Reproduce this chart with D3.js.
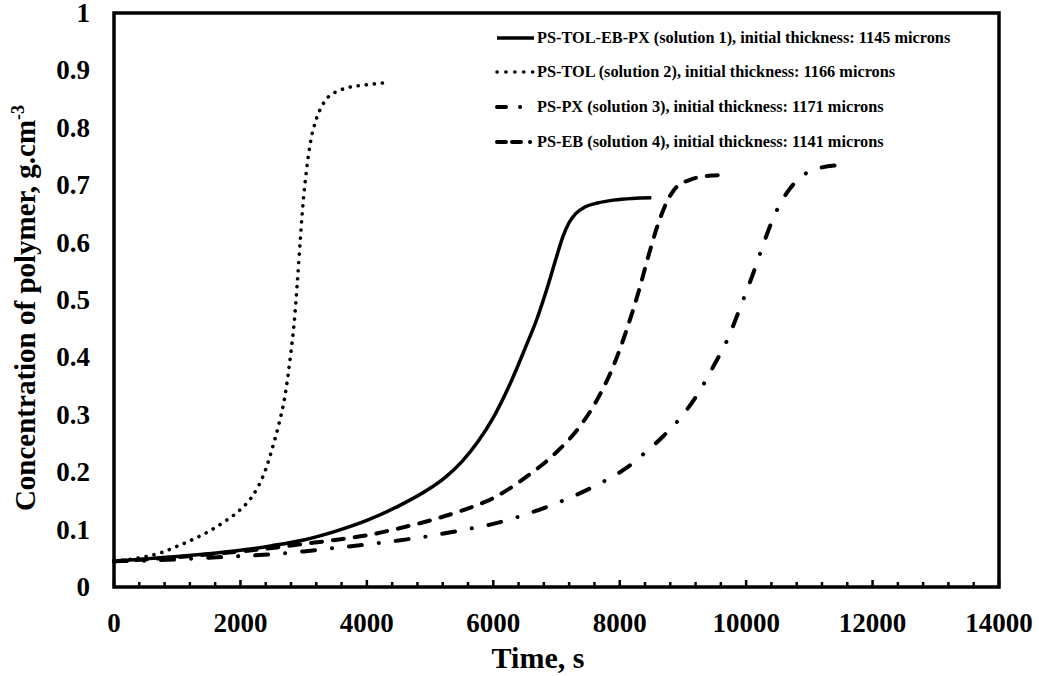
<!DOCTYPE html>
<html>
<head>
<meta charset="utf-8">
<script src="https://cdn.jsdelivr.net/npm/d3@7"></script>
<style>
  html, body { margin: 0; padding: 0; background: #fff; }
  svg { display: block; }
  text { font-family: "Liberation Serif", "Times New Roman", serif; font-weight: bold; fill: #000; }
</style>
</head>
<body>
<svg id="chart" width="1039" height="676"></svg>
<script>
// ---- data ----
const xTicks = [0, 2000, 4000, 6000, 8000, 10000, 12000, 14000];
const yTicks = [0, 0.1, 0.2, 0.3, 0.4, 0.5, 0.6, 0.7, 0.8, 0.9, 1];

const legendLabels = [
  "PS-TOL-EB-PX (solution 1), initial thickness: 1145 microns",
  "PS-TOL (solution 2), initial thickness: 1166 microns",
  "PS-PX (solution 3), initial thickness: 1171 microns",
  "PS-EB (solution 4), initial thickness: 1141 microns"
];

const s1Time = [0, 500, 1000, 1500, 2000, 2500, 3000, 3500, 4000, 4500, 5000, 5250, 5500, 5750, 6000, 6250, 6500, 6700, 6850, 7000, 7100, 7200, 7300, 7450, 7650, 7900, 8200, 8500];
const s1Conc = [0.045, 0.049, 0.053, 0.058, 0.064, 0.072, 0.082, 0.097, 0.116, 0.141, 0.172, 0.192, 0.218, 0.252, 0.295, 0.35, 0.415, 0.47, 0.52, 0.575, 0.61, 0.635, 0.65, 0.662, 0.669, 0.674, 0.677, 0.678];

const s2Time = [0, 250, 500, 750, 1000, 1250, 1500, 1750, 2000, 2200, 2400, 2500, 2600, 2700, 2800, 2850, 2900, 2950, 3000, 3050, 3100, 3200, 3300, 3400, 3500, 3700, 4000, 4250];
const s2Conc = [0.045, 0.048, 0.053, 0.060, 0.071, 0.083, 0.097, 0.114, 0.135, 0.160, 0.205, 0.24, 0.28, 0.33, 0.41, 0.46, 0.53, 0.61, 0.68, 0.73, 0.77, 0.815, 0.84, 0.855, 0.862, 0.870, 0.875, 0.878];

const s3Time = [0, 500, 1000, 1500, 2000, 2500, 3000, 3500, 4000, 4500, 5000, 5500, 6000, 6500, 7000, 7500, 7800, 8100, 8400, 8700, 9000, 9300, 9500, 9700, 9900, 10100, 10250, 10400, 10550, 10700, 10850, 11000, 11200, 11500];
const s3Conc = [0.045, 0.046, 0.048, 0.051, 0.054, 0.057, 0.062, 0.068, 0.074, 0.081, 0.089, 0.099, 0.11, 0.126, 0.146, 0.170, 0.187, 0.207, 0.234, 0.264, 0.30, 0.348, 0.388, 0.43, 0.485, 0.543, 0.59, 0.635, 0.67, 0.695, 0.713, 0.724, 0.731, 0.735];

const s4Time = [0, 500, 1000, 1500, 2000, 2500, 3000, 3500, 4000, 4500, 5000, 5500, 6000, 6500, 7000, 7300, 7600, 7900, 8100, 8300, 8450, 8600, 8750, 8900, 9100, 9300, 9500, 9700];
const s4Conc = [0.045, 0.048, 0.052, 0.057, 0.062, 0.068, 0.075, 0.082, 0.090, 0.102, 0.116, 0.133, 0.155, 0.19, 0.235, 0.27, 0.318, 0.385, 0.445, 0.515, 0.575, 0.63, 0.672, 0.697, 0.709, 0.715, 0.717, 0.718];

// ---- layout ----
const L = 114, R = 999, T = 13, B = 587;

const svg = d3.select("#chart");
const x = d3.scaleLinear().domain([0, 14000]).range([L, R]);
const y = d3.scaleLinear().domain([0, 1]).range([B, T]);

const series = [
  { t: s1Time, c: s1Conc, dash: null, legDash: null, width: 3.5 },
  { t: s2Time, c: s2Conc, dash: "0.1,8", legDash: "0.1,8.8", width: 3.6 },
  { t: s3Time, c: s3Conc, dash: "13,17,0.1,17", legDash: "9,14,0.1,30", width: 4 },
  { t: s4Time, c: s4Conc, dash: "11,11", legDash: "9,6,9,9,0.1,30", width: 4 }
];

const line = d3.line().x(d => x(d[0])).y(d => y(d[1])).curve(d3.curveMonotoneX);

series.forEach(s => {
  const pts = s.t.map((t, i) => [t, s.c[i]]);
  svg.append("path")
    .attr("d", line(pts))
    .attr("fill", "none")
    .attr("stroke", "#000")
    .attr("stroke-width", s.width)
    .attr("stroke-linecap", s.dash ? "round" : "butt")
    .attr("stroke-linejoin", "round")
    .attr("stroke-dasharray", s.dash);
});

// x axis ticks (inside, minor every 400, major every 2000)
const minor = d3.range(0, 14001, 400).filter(v => v % 2000 !== 0);
svg.append("g").selectAll("line").data(minor).join("line")
  .attr("x1", d => x(d)).attr("x2", d => x(d))
  .attr("y1", B).attr("y2", B - 5)
  .attr("stroke", "#000").attr("stroke-width", 2.5);
svg.append("g").selectAll("line").data(xTicks).join("line")
  .attr("x1", d => x(d)).attr("x2", d => x(d))
  .attr("y1", B).attr("y2", B - 7)
  .attr("stroke", "#000").attr("stroke-width", 2.5);

// frame
svg.append("rect")
  .attr("x", L).attr("y", T).attr("width", R - L).attr("height", B - T)
  .attr("fill", "none").attr("stroke", "#000").attr("stroke-width", 3.5);

// tick labels
svg.append("g").selectAll("text").data(xTicks).join("text")
  .attr("x", d => x(d)).attr("y", 632)
  .attr("text-anchor", "middle")
  .attr("font-size", 27)
  .text(d => d);

svg.append("g").selectAll("text").data(yTicks).join("text")
  .attr("x", 90).attr("y", d => y(d) + 9)
  .attr("text-anchor", "end")
  .attr("font-size", 27)
  .text(d => d);

// axis titles
svg.append("text")
  .attr("x", 538).attr("y", 668)
  .attr("text-anchor", "middle")
  .attr("font-size", 30)
  .text("Time, s");

const yt = svg.append("text")
  .attr("transform", "translate(35,308) rotate(-90)")
  .attr("text-anchor", "middle")
  .attr("font-size", 29);
yt.append("tspan").text("Concentration of polymer, g.cm");
yt.append("tspan").attr("dy", -11).attr("font-size", 18).text("-3");

// legend
const legY = [38, 72, 107, 142];
const lg = svg.append("g");
legendLabels.forEach((lab, i) => {
  const s = series[i];
  lg.append("line")
    .attr("x1", 497).attr("x2", 534)
    .attr("y1", legY[i]).attr("y2", legY[i])
    .attr("stroke", "#000").attr("stroke-width", s.width)
    .attr("stroke-linecap", s.legDash ? "round" : "butt")
    .attr("stroke-dasharray", s.legDash);
  lg.append("text")
    .attr("x", 537).attr("y", legY[i] + 5)
    .attr("font-size", 16.3)
    .text(lab);
});
</script>
</body>
</html>
